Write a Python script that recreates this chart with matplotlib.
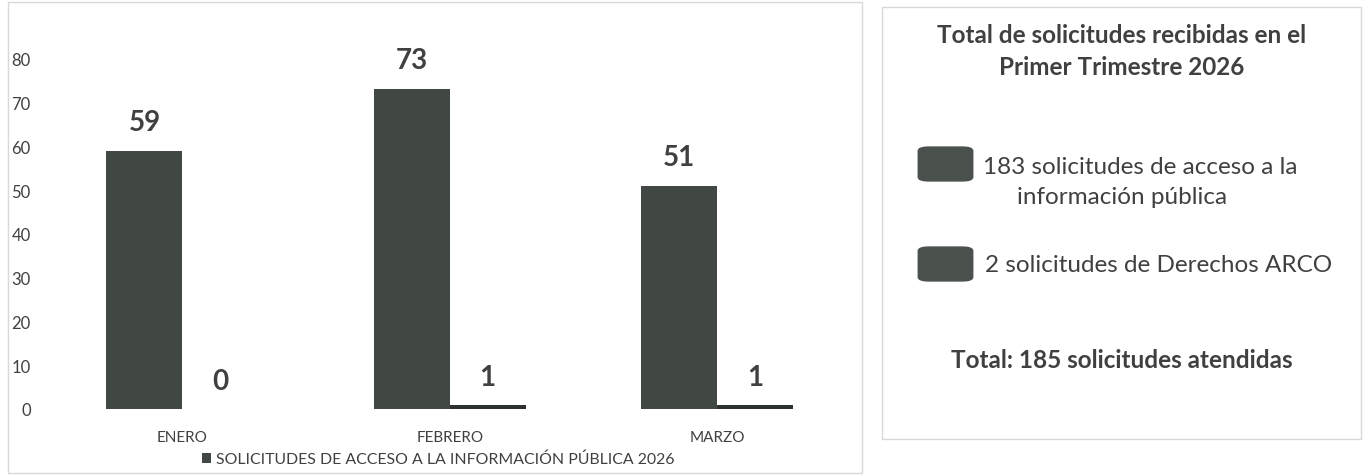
import matplotlib
matplotlib.use("Agg")
import matplotlib.pyplot as plt
import numpy as np
from matplotlib.patches import Rectangle, FancyBboxPatch

plt.rcParams['font.family'] = ['Lato', 'DejaVu Sans']

categories = ["ENERO", "FEBRERO", "MARZO"]
acceso = [59, 73, 51]
arco = [0, 1, 1]
series_label = "SOLICITUDES DE ACCESO A LA INFORMACIÓN PÚBLICA 2026"
yticks = [0, 10, 20, 30, 40, 50, 60, 70, 80]

panel_title = "Total de solicitudes recibidas en el\nPrimer Trimestre 2026"
item1_line1 = "183 solicitudes de acceso a la"
item1_line2 = "información pública"
item2 = "2 solicitudes de Derechos ARCO"
total_text = "Total: 185 solicitudes atendidas"

W, H = 1363, 477
fig = plt.figure(figsize=(W / 100, H / 100), dpi=100)
fig.patch.set_facecolor("white")

bar_color = "#414843"
text_color = "#404040"
border_color = "#d9d9d9"

def fx(px):
    return px / W

def fy(py):
    return 1 - py / H

# left panel border
fig.add_artist(Rectangle((fx(8), fy(474)), fx(862) - fx(8), fy(3) - fy(474),
                         transform=fig.transFigure, fill=False,
                         edgecolor=border_color, linewidth=1.0))

ax = fig.add_axes([fx(48.75), fy(410), fx(850.75) - fx(48.75), fy(16) - fy(410)])
x = np.arange(len(categories))
w = 0.284
b1 = ax.bar(x - w / 2, acceso, width=w, color=bar_color, label=series_label)
b2 = ax.bar(x + w / 2, arco, width=w, color="#2e322f")

for rect, v in zip(b1, acceso):
    ax.annotate(str(v), (rect.get_x() + rect.get_width() / 2, v),
                xytext=(0, 21), textcoords="offset points", ha="center", va="center",
                fontsize=20, fontweight="bold", color=text_color)
for rect, v in zip(b2, arco):
    ax.annotate(str(v), (rect.get_x() + rect.get_width() / 2, v),
                xytext=(0, 20), textcoords="offset points", ha="center", va="center",
                fontsize=20, fontweight="bold", color=text_color)

ax.set_xlim(-0.5, 2.5)
ax.set_ylim(0, 90)
ax.set_yticks(yticks)
ax.set_xticks(x)
ax.set_xticklabels(categories)
for s in ax.spines.values():
    s.set_visible(False)
ax.tick_params(axis="y", length=0, pad=13, labelsize=12, labelcolor=text_color)
ax.tick_params(axis="x", length=0, pad=15, labelsize=11, labelcolor=text_color)

leg = fig.legend(handles=[b1], labels=[series_label], loc="center",
                 bbox_to_anchor=(fx(438), fy(460)), frameon=False,
                 fontsize=11.4, handlelength=0.6, handleheight=0.6,
                 handletextpad=0.3, labelcolor=text_color)

# right panel
fig.add_artist(Rectangle((fx(882), fy(440)), fx(1361) - fx(882), fy(8) - fy(440),
                         transform=fig.transFigure, fill=False,
                         edgecolor=border_color, linewidth=1.0))

cx = fx(1122)
fs = 17.5
fig.text(cx, fy(51.5), panel_title, ha="center", va="center", fontsize=fs,
         fontweight="bold", color=text_color, linespacing=1.5)

for (y0, y1) in [(147, 183), (247, 283)]:
    fig.add_artist(FancyBboxPatch((fx(921), fy(y1 - 2)), fx(970) - fx(921), fy(y0 + 2) - fy(y1 - 2),
                                  boxstyle="round,pad=0.002,rounding_size=0.008",
                                  transform=fig.transFigure, facecolor="#4a514c",
                                  edgecolor="#4a514c", linewidth=1))

fig.text(fx(983), fy(167), item1_line1, ha="left", va="center", fontsize=fs,
         color=text_color)
fig.text(cx, fy(198), item1_line2, ha="center", va="center", fontsize=fs,
         color=text_color)
fig.text(fx(985), fy(265), item2, ha="left", va="center", fontsize=fs,
         color=text_color)
fig.text(cx, fy(360), total_text, ha="center", va="center", fontsize=fs,
         fontweight="bold", color=text_color)

fig.savefig("out.png", dpi=100, facecolor="white")
